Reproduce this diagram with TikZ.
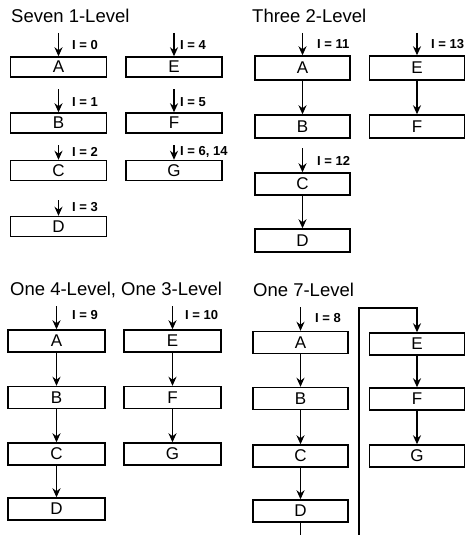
\documentclass[tikz,border=0pt]{standalone}
\usepackage{fontspec}
\setmainfont{Liberation Sans}
\usetikzlibrary{arrows.meta}
\begin{document}
\begin{tikzpicture}[x=1pt,y=-1pt,
  box/.style={draw, line width=1.4pt, minimum width=96pt, minimum height=21pt, inner sep=0pt, font=\fontsize{17}{17}\selectfont},
  ttl/.style={anchor=west, inner sep=0pt, font=\fontsize{18.5}{20}\selectfont},
  lbl/.style={anchor=west, inner sep=0pt, font=\fontsize{13}{14}\selectfont\bfseries},
  arr/.style={line width=1.5pt, -{Stealth[length=9pt,width=8pt]}},
  ln/.style={line width=1.5pt}]
\useasboundingbox (0,0) rectangle (470,535);

% ---------- Panel 1: Seven 1-Level ----------
\node[ttl] (t1) at (11,16) {Seven 1-Level};
\node[box, minimum height=20pt] (p1a) at (58.5,67) {A};
\node[box, minimum height=20pt] (p1b) at (58.5,123) {B};
\node[box, minimum height=20pt] (p1c) at (58.5,170.5) {C};
\node[box, minimum height=20pt] (p1d) at (58.5,226.5) {D};
\node[box, minimum height=20pt] (p1e) at (174,67) {E};
\node[box, minimum height=20pt] (p1f) at (174,123) {F};
\node[box, minimum height=20pt] (p1g) at (174,170.5) {G};
\coordinate (p1ai) at (58.5,33);
\coordinate (p1bi) at (58.5,89);
\coordinate (p1ci) at (58.5,145);
\coordinate (p1di) at (58.5,200);
\coordinate (p1ei) at (174,33);
\coordinate (p1fi) at (174,89);
\coordinate (p1gi) at (174,145);
\draw[arr] (p1ai) -- (p1a);
\draw[arr] (p1bi) -- (p1b);
\draw[arr] (p1ci) -- (p1c);
\draw[arr] (p1di) -- (p1d);
\draw[arr] (p1ei) -- (p1e);
\draw[arr] (p1fi) -- (p1f);
\draw[arr] (p1gi) -- (p1g);
\node[lbl] (l1a) at (72,45) {I = 0};
\node[lbl] (l1b) at (72,102) {I = 1};
\node[lbl] (l1c) at (72,152) {I = 2};
\node[lbl] (l1d) at (72,207) {I = 3};
\node[lbl] (l1e) at (180,45) {I = 4};
\node[lbl] (l1f) at (180,102) {I = 5};
\node[lbl] (l1g) at (180,152) {I = 6, 14};

% ---------- Panel 2: Three 2-Level ----------
\node[ttl] (t2) at (252,16) {Three 2-Level};
\node[box, minimum width=95pt, minimum height=24pt] (p2a) at (302.5,68) {A};
\node[box, minimum width=95pt, minimum height=23pt] (p2b) at (302.5,126.5) {B};
\node[box, minimum width=95pt, minimum height=22pt] (p2c) at (302.5,184) {C};
\node[box, minimum width=95pt, minimum height=23pt] (p2d) at (302.5,240.5) {D};
\node[box, minimum width=95pt, minimum height=24pt] (p2e) at (417,68) {E};
\node[box, minimum width=95pt, minimum height=23pt] (p2f) at (417,126.5) {F};
\coordinate (p2ai) at (302.5,33);
\coordinate (p2ci) at (302.5,148);
\coordinate (p2ei) at (417,33);
\draw[arr] (p2ai) -- (p2a);
\draw[arr] (p2a) -- (p2b);
\draw[arr] (p2ci) -- (p2c);
\draw[arr] (p2c) -- (p2d);
\draw[arr] (p2ei) -- (p2e);
\draw[arr] (p2e) -- (p2f);
\node[lbl] (l2a) at (317,44) {I = 11};
\node[lbl] (l2c) at (317,161) {I = 12};
\node[lbl] (l2e) at (431,44) {I = 13};

% ---------- Panel 3: One 4-Level, One 3-Level ----------
\node[ttl] (t3) at (10,290) {One 4-Level, One 3-Level};
\node[box, minimum width=97pt, minimum height=22pt] (p3a) at (56.5,341) {A};
\node[box, minimum width=97pt, minimum height=22pt] (p3b) at (56.5,397.5) {B};
\node[box, minimum width=97pt, minimum height=22pt] (p3c) at (56.5,454) {C};
\node[box, minimum width=97pt, minimum height=22pt] (p3d) at (56.5,509) {D};
\node[box, minimum width=97pt, minimum height=22pt] (p3e) at (172.5,341) {E};
\node[box, minimum width=97pt, minimum height=22pt] (p3f) at (172.5,397.5) {F};
\node[box, minimum width=97pt, minimum height=22pt] (p3g) at (172.5,454) {G};
\coordinate (p3ai) at (56.5,306);
\coordinate (p3ei) at (172.5,306);
\draw[arr] (p3ai) -- (p3a);
\draw[arr] (p3a) -- (p3b);
\draw[arr] (p3b) -- (p3c);
\draw[arr] (p3c) -- (p3d);
\draw[arr] (p3ei) -- (p3e);
\draw[arr] (p3e) -- (p3f);
\draw[arr] (p3f) -- (p3g);
\node[lbl] (l3a) at (72,315) {I = 9};
\node[lbl] (l3e) at (185,315) {I = 10};

% ---------- Panel 4: One 7-Level ----------
\node[ttl] (t4) at (253,290) {One 7-Level};
\node[box, minimum width=95pt, minimum height=22pt] (p4a) at (300.5,342.5) {A};
\node[box, minimum width=95pt, minimum height=22pt] (p4b) at (300.5,398.5) {B};
\node[box, minimum width=95pt, minimum height=22pt] (p4c) at (300.5,456) {C};
\node[box, minimum width=95pt, minimum height=22pt] (p4d) at (300.5,511) {D};
\node[box, minimum width=95pt, minimum height=22pt] (p4e) at (417,344) {E};
\node[box, minimum width=95pt, minimum height=22pt] (p4f) at (417,399) {F};
\node[box, minimum width=95pt, minimum height=22pt] (p4g) at (417,456) {G};
\coordinate (p4ai) at (300.5,307);
\draw[arr] (p4ai) -- (p4a);
\draw[arr] (p4a) -- (p4b);
\draw[arr] (p4b) -- (p4c);
\draw[arr] (p4c) -- (p4d);
\coordinate (p4dout) at (300.5,535);
\draw[ln] (p4d) -- (p4dout);
\coordinate (rbot) at (359,535);
\coordinate (rtop) at (359,308);
\draw[arr] (rbot) -- (rtop) -| (p4e);
\draw[arr] (p4e) -- (p4f);
\draw[arr] (p4f) -- (p4g);
\node[lbl] (l4a) at (315,318) {I = 8};
\end{tikzpicture}
\end{document}
